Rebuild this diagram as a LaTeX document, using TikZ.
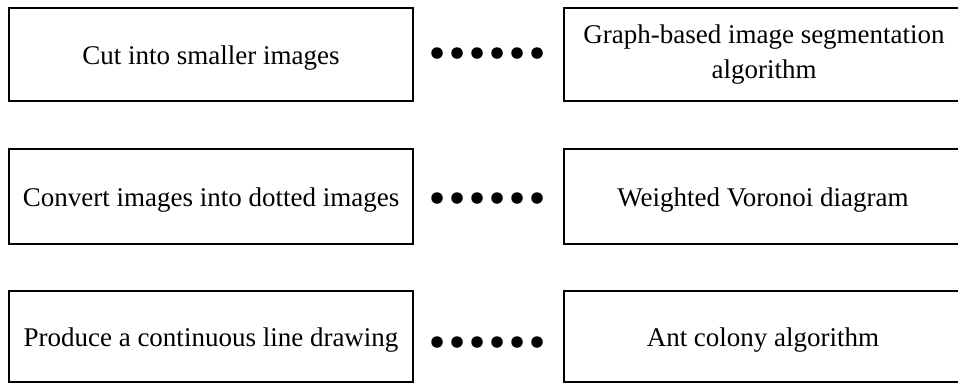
\documentclass[tikz,border=0pt]{standalone}
\usepackage{fontspec}
\setmainfont{Liberation Serif}
\newcommand{\lowertext}[1]{\raisebox{-4pt}[\height][\depth]{#1}}
\begin{document}
\begin{tikzpicture}[x=1pt,y=-1pt,
  box/.style={draw=black,line width=2pt,rectangle,inner sep=0pt,align=center,
    font=\fontsize{27}{35}\selectfont},
  dotmark/.style={circle,fill=black,inner sep=0pt,minimum size=11.5pt}]
\useasboundingbox (0,0) rectangle (958,384);
\node[box,minimum width=404pt,minimum height=93pt] (l1) at (211,54.5) {\lowertext{Cut into smaller images}};
\node[box,minimum width=402pt,minimum height=93pt] (r1) at (765,54.5) {\hspace*{-2pt}Graph-based image segmentation\\\hspace*{-2pt}algorithm};
\node[box,minimum width=404pt,minimum height=95pt] (l2) at (211,196.5) {\lowertext{Convert images into dotted images}};
\node[box,minimum width=402pt,minimum height=95pt] (r2) at (765,196.5) {\hspace*{-4pt}\lowertext{Weighted Voronoi diagram}};
\node[box,minimum width=404pt,minimum height=91pt] (l3) at (211,336.5) {\lowertext{Produce a continuous line drawing}};
\node[box,minimum width=402pt,minimum height=91pt] (r3) at (765,336.5) {\hspace*{-4pt}\lowertext{Ant colony algorithm}};
\foreach \r/\y in {1/53,2/198,3/342}{
  \foreach \i in {0,...,5}{
    \node[dotmark] (d\r\i) at (437+20*\i,\y) {};
  }
}
\end{tikzpicture}
\end{document}
